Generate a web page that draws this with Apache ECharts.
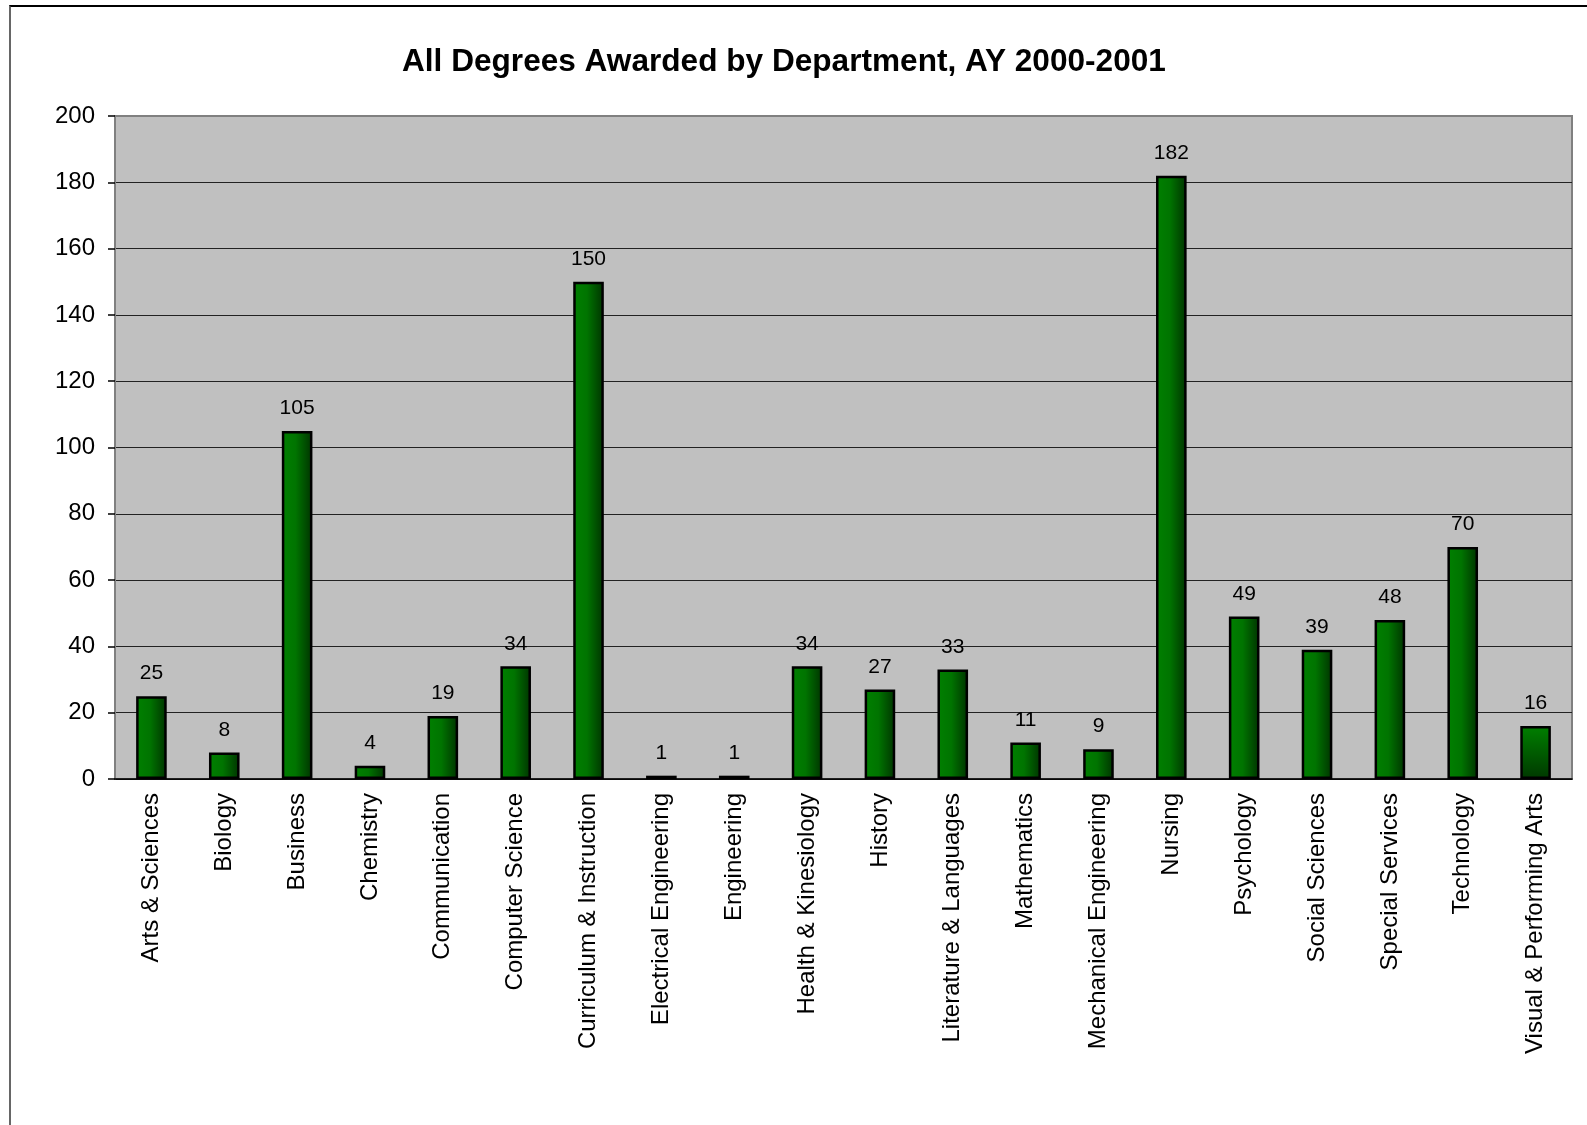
<!DOCTYPE html>
<html>
<head>
<meta charset="utf-8">
<script src="https://cdn.jsdelivr.net/npm/echarts@6/dist/echarts.min.js"></script>
<style>
html,body{margin:0;padding:0;background:#fff;}
#chart{position:absolute;left:0;top:0;width:1587px;height:1125px;}
#frame{position:absolute;left:9px;top:5px;width:1600px;height:1200px;border-top:2px solid #000;border-left:2px solid #666;pointer-events:none;}
</style>
</head>
<body>
<div id="chart"></div>
<div id="frame"></div>
<script>
const departments = ["Arts & Sciences","Biology","Business","Chemistry","Communication","Computer Science","Curriculum & Instruction","Electrical Engineering","Engineering","Health & Kinesiology","History","Literature & Languages","Mathematics","Mechanical Engineering","Nursing","Psychology","Social Sciences","Special Services","Technology","Visual & Performing Arts"];
const degrees = [25,8,105,4,19,34,150,1,1,34,27,33,11,9,182,49,39,48,70,16];
const yTicks = {min:0, max:200, interval:20};

const hGrad = new echarts.graphic.LinearGradient(0,0,1,0,[
  {offset:0,color:'#008000'},{offset:0.45,color:'#007400'},{offset:1,color:'#003300'}]);
const vGrad = new echarts.graphic.LinearGradient(0,0,0,1,[
  {offset:0,color:'#008000'},{offset:1,color:'#003800'}]);

const seriesData = degrees.map((v,i)=>({
  value:v,
  itemStyle:{color: i===degrees.length-1 ? vGrad : hGrad}
}));

const chart = echarts.init(document.getElementById('chart'));
chart.setOption({
  animation:false,
  backgroundColor:'#fff',
  title:{
    text:'All Degrees Awarded by Department, AY 2000-2001',
    left:397, top:41,
    textStyle:{fontFamily:'Liberation Sans, Arial, sans-serif',fontWeight:'bold',fontSize:31.6,color:'#000'}
  },
  grid:{left:115,top:116,right:15,bottom:346,show:true,backgroundColor:'#c0c0c0',borderColor:'#808080',borderWidth:2},
  xAxis:{
    type:'category',
    data:departments,
    axisLine:{show:true,lineStyle:{color:'#000',width:1.5}},
    axisTick:{show:false},
    axisLabel:{rotate:90,interval:0,margin:14,fontFamily:'Liberation Sans, Arial, sans-serif',fontSize:24,color:'#000'}
  },
  yAxis:{
    type:'value',
    min:yTicks.min,max:yTicks.max,interval:yTicks.interval,
    axisLine:{show:true,lineStyle:{color:'#808080',width:2}},
    axisTick:{show:true,length:7,lineStyle:{color:'#000',width:1.5}},
    axisLabel:{margin:20,fontFamily:'Liberation Sans, Arial, sans-serif',fontSize:24,color:'#000'},
    splitLine:{show:true,showMaxLine:false,lineStyle:{color:'#222',width:1.2}}
  },
  series:[{
    type:'bar',
    data:seriesData,
    barWidth:'42%',
    itemStyle:{borderColor:'#000',borderWidth:2.5},
    label:{show:true,position:'top',distance:12,fontFamily:'Liberation Sans, Arial, sans-serif',fontSize:21,color:'#000'}
  }]
});
</script>
</body>
</html>
